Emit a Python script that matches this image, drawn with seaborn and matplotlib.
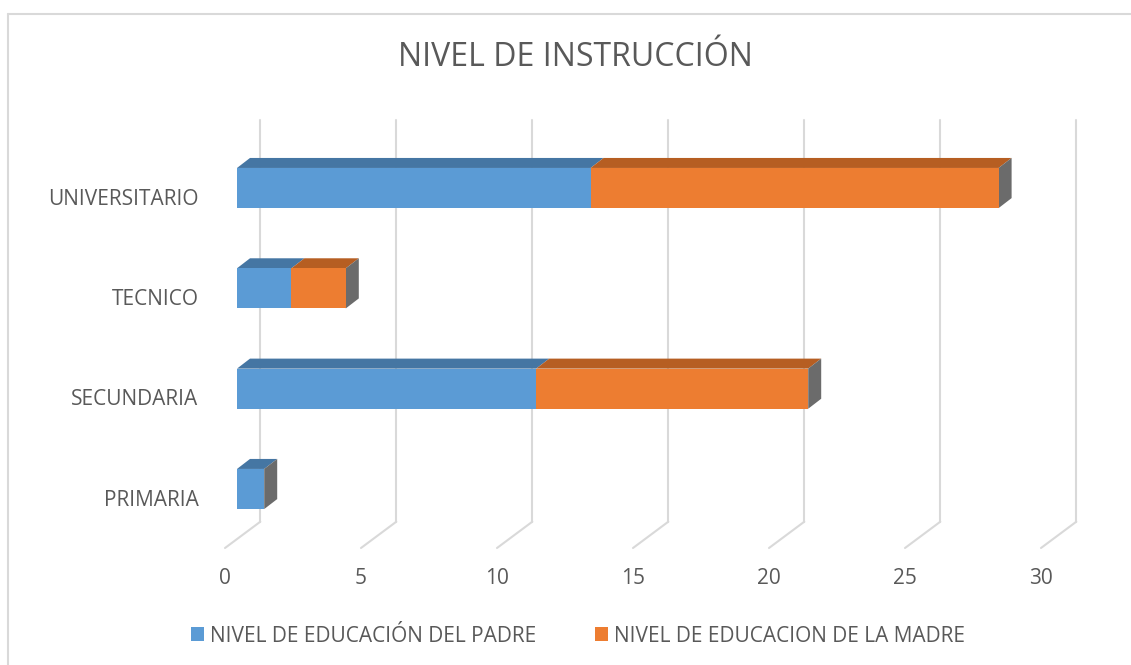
"""
plot.py
=======
Gráfico de barras apiladas (estilo 3D de Excel) del nivel de instrucción.
"""

import matplotlib
matplotlib.use("Agg")
import matplotlib.pyplot as plt
import numpy as np
import pandas as pd
import seaborn as sns
from matplotlib.lines import Line2D
from matplotlib.patches import Patch, Polygon

# ──────────────────────────────────────────────────────────────────────────────
# Datos
# ──────────────────────────────────────────────────────────────────────────────
CATEGORIAS = ["UNIVERSITARIO", "TECNICO", "SECUNDARIA", "PRIMARIA"]
PADRE = [13, 2, 11, 1]
MADRE = [15, 2, 10, 0]
TICKS = [0, 5, 10, 15, 20, 25, 30]

TITULO = "NIVEL DE INSTRUCCIÓN"
SERIE_PADRE = "NIVEL DE EDUCACIÓN DEL PADRE"
SERIE_MADRE = "NIVEL DE EDUCACION DE LA MADRE"

# ──────────────────────────────────────────────────────────────────────────────
# Estilo
# ──────────────────────────────────────────────────────────────────────────────
AZUL, AZUL_TOP = "#5B9BD5", "#4576A3"
NARANJA, NARANJA_TOP = "#ED7D31", "#B65E22"
LATERAL = "#6B6B6B"
GRIS_TXT = "#595959"
GRID = "#D9D9D9"

sns.set_theme(style="white")
plt.rcParams["font.family"] = ["Open Sans", "DejaVu Sans"]

W, H, DPI = 1131, 665, 100
PX_X = 27.2      # px por unidad en x
PX_Y = 100.33    # px por categoría

# profundidad de las barras y del "piso" (en unidades de datos)
BAR_DX, BAR_DY = 13 / PX_X, -10 / PX_Y
BACK_DX = 23.3 / PX_X
FRONT_DX = -12 / PX_X
Y_FLOOR_FRONT, Y_FLOOR_BACK, Y_TOP = 3.588, 3.326, -0.678
BAR_H = 0.4
X_MIN, X_MAX = FRONT_DX, 30

df = pd.DataFrame({"cat": CATEGORIAS, "padre": PADRE, "madre": MADRE})
df["total"] = df["padre"] + df["madre"]

fig = plt.figure(figsize=(W / DPI, H / DPI), dpi=DPI)
# x=0 cae en px 237 (frente de las barras); el eje empieza en el borde del piso
x0_px = 237 + X_MIN * PX_X
ax = fig.add_axes([x0_px / W, 1 - 548 / H, (X_MAX - X_MIN) * PX_X / W, 428 / H])

# ──────────────────────────────────────────────────────────────────────────────
# Grilla 3D (pared trasera + piso)
# ──────────────────────────────────────────────────────────────────────────────
for v in TICKS:
    ax.add_line(Line2D([v + BACK_DX, v + BACK_DX], [Y_FLOOR_BACK, Y_TOP],
                       color=GRID, lw=1.5, clip_on=False, zorder=0))
    ax.add_line(Line2D([v + FRONT_DX, v + BACK_DX], [Y_FLOOR_FRONT, Y_FLOOR_BACK],
                       color=GRID, lw=1.5, clip_on=False, zorder=0))

# ──────────────────────────────────────────────────────────────────────────────
# Barras (cara frontal con seaborn)
# ──────────────────────────────────────────────────────────────────────────────
sns.barplot(data=df, x="total", y="cat", order=CATEGORIAS, color=NARANJA,
            width=BAR_H, saturation=1, linewidth=0, ax=ax, zorder=3)
sns.barplot(data=df, x="padre", y="cat", order=CATEGORIAS, color=AZUL,
            width=BAR_H, saturation=1, linewidth=0, ax=ax, zorder=3)


def cara_superior(x0, x1, top, color):
    pts = [(x0, top), (x1, top), (x1 + BAR_DX, top + BAR_DY), (x0 + BAR_DX, top + BAR_DY)]
    ax.add_patch(Polygon(pts, closed=True, fc=color, ec="none", zorder=2, clip_on=False))


for k, row in df.iterrows():
    top, bottom = k - BAR_H / 2, k + BAR_H / 2
    if row["padre"] > 0:
        cara_superior(0, row["padre"], top, AZUL_TOP)
    if row["madre"] > 0:
        cara_superior(row["padre"], row["total"], top, NARANJA_TOP)
    t = row["total"]
    lado = [(t, top), (t + BAR_DX, top + BAR_DY), (t + BAR_DX, bottom + BAR_DY), (t, bottom)]
    ax.add_patch(Polygon(lado, closed=True, fc=LATERAL, ec="none", zorder=2, clip_on=False))

# ──────────────────────────────────────────────────────────────────────────────
# Ejes y textos
# ──────────────────────────────────────────────────────────────────────────────
ax.set_xlabel("")
ax.set_ylabel("")
sns.despine(ax=ax, left=True, bottom=True)

ax.set_xticks([v + FRONT_DX for v in TICKS], labels=[str(v) for v in TICKS])
ax.set_yticks(np.arange(len(CATEGORIAS)) + 0.085, labels=CATEGORIAS)
ax.tick_params(axis="x", length=0, pad=14.5, labelsize=15, labelcolor=GRIS_TXT)
ax.tick_params(axis="y", length=0, pad=19, labelsize=15, labelcolor=GRIS_TXT)
ax.set_xlim(X_MIN, X_MAX)
ax.set_ylim(Y_FLOOR_FRONT, Y_TOP)

fig.text(575 / W, 1 - 57 / H, TITULO, ha="center", va="center",
         fontsize=23, color=GRIS_TXT)

handles = [Patch(fc=AZUL, ec="none"), Patch(fc=NARANJA, ec="none")]
fig.legend(handles, [SERIE_PADRE, SERIE_MADRE], loc="center",
           bbox_to_anchor=(578 / W, 1 - 636 / H), ncol=2, frameon=False,
           fontsize=15, labelcolor=GRIS_TXT, handlelength=0.62, handleheight=0.62,
           handletextpad=0.3, columnspacing=2.8)

# borde del área del gráfico
fig.add_artist(Line2D([8 / W, 1], [1 - 14 / H, 1 - 14 / H], color=GRID, lw=1.5))
fig.add_artist(Line2D([8 / W, 8 / W], [0, 1 - 14 / H], color=GRID, lw=1.5))

fig.savefig("out.png", dpi=DPI)
